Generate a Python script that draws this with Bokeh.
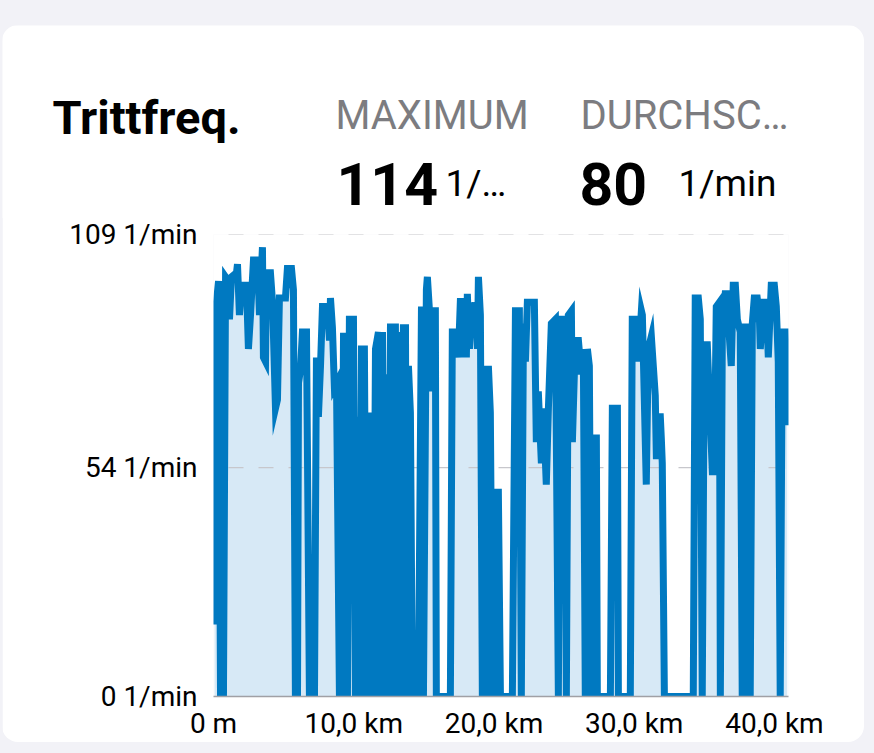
from bokeh.plotting import figure
from bokeh.models import FixedTicker, Range1d
from bokeh.core.properties import value
from bokeh.layouts import column
from bokeh.embed import file_html
from bokeh.resources import INLINE

# ---------------- data ----------------
distance_km = [
    0.07, 0.21, 0.36, 0.50, 0.71, 0.86, 1.07, 1.14, 1.28, 1.64, 1.71, 1.85, 2.00, 2.35, 2.49,
    2.64, 2.85, 3.14, 3.28, 3.49, 3.56, 3.71, 3.78, 4.06, 4.21, 4.42, 4.56, 4.70, 5.13, 5.27,
    5.56, 5.70, 5.84, 5.99, 6.06, 6.20, 6.34, 6.63, 6.84, 7.20, 7.34, 7.48, 7.63, 7.77, 8.13,
    8.27, 8.34, 8.48, 8.62, 8.77, 8.98, 9.12, 9.27, 9.41, 9.55, 9.69, 9.98, 10.12, 10.26, 10.41,
    10.55, 10.76, 10.91, 10.98, 11.12, 11.26, 11.40, 11.55, 11.76, 11.90, 12.05, 12.19, 12.33,
    12.47, 12.62, 12.83, 12.97, 13.11, 13.26, 13.40, 13.54, 13.69, 13.76, 13.90, 14.04, 14.18,
    14.61, 14.83, 14.97, 15.18, 15.25, 15.40, 15.54, 15.68, 15.82, 15.89, 16.89, 17.03, 17.32,
    17.46, 17.61, 17.75, 17.89, 18.03, 18.10, 18.25, 18.39, 18.53, 18.67, 18.82, 18.89, 19.03,
    19.17, 19.32, 19.46, 19.60, 19.74, 19.89, 20.03, 20.17, 20.31, 20.46, 21.31, 21.53, 21.81,
    21.95, 22.10, 22.24, 22.38, 22.88, 23.02, 23.16, 23.38, 23.52, 23.73, 23.88, 24.09, 24.38,
    24.59, 24.73, 25.02, 25.16, 25.30, 25.52, 25.59, 25.80, 26.02, 26.23, 26.37, 26.51, 26.66,
    26.80, 26.94, 27.08, 27.30, 27.37, 28.30, 28.44, 28.80, 28.87, 29.72, 29.86, 30.22, 30.29,
    30.51, 30.58, 30.86, 31.00, 31.22, 31.36, 31.50, 31.58, 31.72, 31.86, 31.93, 32.00, 32.15,
    34.21, 34.35, 34.57, 34.71, 34.85, 35.00, 35.21, 35.35, 35.57, 35.71, 35.85, 36.07, 36.14,
    36.28, 36.49, 36.71, 36.78, 36.92, 37.06, 37.21, 37.35, 37.56, 37.70, 37.85, 37.99, 38.13,
    38.27, 38.42, 38.56, 38.77, 38.92, 38.99, 39.20, 39.42, 39.56, 39.77, 39.99, 40.13, 40.27,
    40.41, 40.56, 40.77, 40.84, 40.91,
]
cadence = [
    17, 93, 98, 0, 0, 99, 98, 89, 99, 100, 102, 90, 97, 97, 82,
    90, 103, 103, 90, 106, 80, 79, 100, 100, 93, 68, 70, 94, 94, 101,
    101, 96, 0, 0, 74, 77, 86, 86, 0, 0, 80, 66, 78, 92, 92,
    84, 94, 87, 73, 74, 0, 0, 85, 85, 0, 89, 89, 0, 66, 0,
    82, 82, 0, 58, 0, 67, 0, 82, 86, 0, 86, 0, 76,
    0, 88, 0, 88, 0, 86, 0, 87, 87, 0, 78, 67, 0,
    0, 92, 0, 96, 99, 91, 72, 91, 91, 0, 0, 86, 86,
    80, 94, 80, 94, 80, 95, 82, 93, 86, 93, 82, 99, 90,
    0, 78, 0, 78, 67, 0, 49, 0, 49, 0, 0, 91, 91,
    0, 88, 79, 93, 93, 60, 72, 55, 68, 50, 68, 88, 89,
    0, 89, 89, 0, 90, 91, 60, 84, 84, 76, 82, 0, 82,
    78, 0, 61, 61, 0, 0, 68, 68, 0, 0, 89, 89, 79,
    91, 90, 50, 82, 85, 78, 71, 56, 66, 66, 61, 55, 0,
    0, 94, 94, 89, 0, 83, 83, 71, 53, 53, 92, 93, 0,
    85, 95, 95, 85, 78, 97, 97, 89, 86, 0, 88, 0, 88,
    0, 88, 94, 94, 90, 82, 93, 93, 80, 97, 97, 92, 79,
    0, 86, 86, 78, 64,
]

y_ticks = [0, 54, 109]
y_tick_labels = ["0 1/min", "54 1/min", "109 1/min"]
x_ticks = [0, 10, 20, 30, 40]
x_tick_labels = ["0 m", "10,0 km", "20,0 km", "30,0 km", "40,0 km"]
grid_levels = [54, 109]

title_text = "Trittfreq."
stat_headers = ["MAXIMUM", "DURCHSC…"]
stat_values = ["114", "80"]
stat_units = ["1/…", "1/min"]

LINE = "#0079c1"
FILL = "#d7e9f6"
FONT = "Roboto"
CARD_W = 862

# ---------------- header (card top) ----------------
hdr = figure(
    width=CARD_W, height=193,
    x_range=Range1d(0, CARD_W), y_range=Range1d(193, 0),
    x_axis_type=None, y_axis_type=None,
    output_backend="svg", toolbar_location=None,
    min_border=0, outline_line_color=None,
    background_fill_color="white", border_fill_color="white",
)
hdr.grid.visible = False
hdr.margin = (25, 10, 0, 2)
hdr.styles = {"border-radius": "16px 16px 0 0", "overflow": "hidden"}

hdr.text(x=[50], y=[92], text=[title_text], text_font=value(FONT),
         text_font_size="47px", text_font_style="bold", text_color="black",
         text_baseline="alphabetic")
hdr.text(x=[333, 578], y=[90, 90], text=stat_headers, text_font=value(FONT),
         text_font_size="40px", text_color="#7c7c80", text_baseline="alphabetic")
hdr.text(x=[334, 577], y=[158, 158], text=stat_values, text_font=value(FONT),
         text_font_size="59px", text_font_style="bold", text_color="black",
         text_baseline="alphabetic")
hdr.text(x=[443, 676], y=[158, 158], text=stat_units, text_font=value(FONT),
         text_font_size="37px", text_color="black", text_baseline="alphabetic")

# ---------------- chart (card bottom) ----------------
p = figure(
    frame_width=575, frame_height=462,
    x_range=(0, 41), y_range=(0, 109),
    output_backend="svg", toolbar_location=None,
    min_border_left=211, min_border_right=76,
    min_border_top=17, min_border_bottom=42,
    background_fill_color="white", border_fill_color="white",
    outline_line_color=None,
)
p.margin = (-1, 10, 14, 2)
p.styles = {"border-radius": "0 0 16px 16px", "overflow": "hidden"}

for f in (hdr, p):
    if "frame_align" in f.properties():
        f.frame_align = False

p.varea(x=distance_km, y1=0, y2=cadence, fill_color=FILL)
p.segment(x0=0, x1=41, y0=grid_levels, y1=grid_levels,
          line_color="#c7c7cc", line_width=1.2, line_dash="15 15", line_dash_offset=15)
p.line(distance_km, cadence, line_color=LINE, line_width=7, line_join="miter")

p.xgrid.visible = False
p.ygrid.visible = False

ya = p.yaxis[0]
ya.ticker = FixedTicker(ticks=y_ticks)
ya.major_label_overrides = {t: l for t, l in zip(y_ticks, y_tick_labels)}
ya.axis_line_color = None
ya.major_tick_line_color = None
ya.minor_tick_line_color = None
ya.major_label_standoff = 10
ya.major_label_text_font = FONT
ya.major_label_text_font_size = "28px"
ya.major_label_text_color = "black"

xa = p.xaxis[0]
xa.ticker = FixedTicker(ticks=x_ticks)
xa.major_label_overrides = {t: l for t, l in zip(x_ticks, x_tick_labels)}
xa.axis_line_color = "#a0a0a5"
xa.axis_line_width = 1.5
xa.major_tick_line_color = None
xa.minor_tick_line_color = None
xa.major_label_standoff = 4
xa.major_label_text_font = FONT
xa.major_label_text_font_size = "28px"
xa.major_label_text_color = "black"

layout = column(hdr, p, styles={"background-color": "#f2f2f7"})

open("out.html", "w").write(file_html(layout, INLINE))
